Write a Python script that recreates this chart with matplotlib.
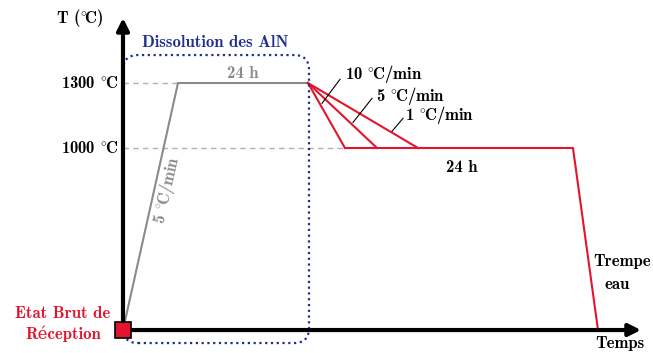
import matplotlib
matplotlib.use("Agg")
import matplotlib.pyplot as plt
from matplotlib.patches import FancyBboxPatch, Rectangle

# ---- data (schematic time units, temperature in °C) ----
T_base = 160
T_sol = 1300
T_ann = 1000
t_heat_end = 5.5
t_sol_end = 18.5
cool_rates = ["10 °C/min", "5 °C/min", "1 °C/min"]
t_cool_end = [22.2, 25.4, 29.5]
t_ann_end = 45.0
t_quench_end = 47.5
heat_label = "5 °C/min"
hold_label = "24 h"

FONT = ['cmb10', 'DejaVu Serif']
plt.rcParams['axes.unicode_minus'] = False
plt.rcParams['mathtext.fontset'] = 'cm'


def tx(s):
    return s.replace("°", r"$^{\circ}\!$")


fig = plt.figure(figsize=(6.53, 3.53), dpi=100)
ax = fig.add_axes([0, 0, 1, 1])
ax.set_xlim(-12.3, 53.0)
ax.set_ylim(54, 1683)
ax.axis('off')

gray = '#8a8a8a'
red = '#e3142d'
navy = '#1f2f8f'

# dashed guides
ax.plot([0, t_heat_end], [T_sol, T_sol], color='#b0b0b0', lw=1, ls=(0, (4, 3)))
ax.plot([0, t_cool_end[0]], [T_ann, T_ann], color='#b0b0b0', lw=1, ls=(0, (4, 3)))

# dissolution box
box = FancyBboxPatch((0.0, 100), 18.6, 1329, boxstyle="round,pad=0,rounding_size=1.5",
                     mutation_aspect=46.15, fill=False, ec=navy, lw=1.6, ls=(0, (1.0, 1.6)), zorder=4)
ax.add_patch(box)

# heating
ax.plot([0, t_heat_end, t_sol_end], [T_base, T_sol, T_sol], color=gray, lw=1.5, zorder=3)
# cooling
for te in t_cool_end:
    ax.plot([t_sol_end, te], [T_sol, T_ann], color=red, lw=1.5, zorder=3)
ax.plot([t_cool_end[0], t_ann_end, t_quench_end], [T_ann, T_ann, T_base], color=red, lw=1.5, zorder=3)

# axes arrows
ax.annotate('', xy=(0, 1600), xytext=(0, T_base - 25),
            arrowprops=dict(arrowstyle='-|>', lw=3, color='black', mutation_scale=18, shrinkA=0, shrinkB=0), zorder=5)
ax.annotate('', xy=(51.8, T_base), xytext=(-0.2, T_base),
            arrowprops=dict(arrowstyle='-|>', lw=3, color='black', mutation_scale=18, shrinkA=0, shrinkB=0), zorder=5)

# red square
ax.add_patch(Rectangle((-0.8, T_base - 37), 1.6, 74, fc=red, ec='black', lw=1.2, zorder=6))

fs = 12
ax.text(-0.5, T_sol, tx("1300 °C"), ha='right', va='center', fontsize=fs, family=FONT)
ax.text(-0.5, T_ann, tx("1000 °C"), ha='right', va='center', fontsize=fs, family=FONT)
ax.text(-4.3, 1600, tx("T (°C)"), ha='center', va='center', fontsize=fs, family=FONT)
ax.text(9.2, 1489, "Dissolution des AlN", ha='center', va='center', fontsize=fs, family=FONT, color=navy)
ax.text(12.0, 1346, hold_label, ha='center', va='center', fontsize=fs, family=FONT, color=gray)
ax.text(4.4, 806, tx(heat_label), ha='center', va='center', fontsize=fs, family=FONT, color=gray, rotation=77.4)
ax.text(33.9, 910, hold_label, ha='center', va='center', fontsize=fs, family=FONT)

# rate labels with leaders
lab_pos = [(22.2, 1340), (25.3, 1240), (28.2, 1150)]
lead = [((21.7, 1317), (19.9, 1206)), ((24.9, 1229), (23.0, 1118)), ((28.0, 1137), (26.9, 1077))]
for lbl, (x, y), (p0, p1) in zip(cool_rates, lab_pos, lead):
    ax.text(x, y, tx(lbl), ha='left', va='center', fontsize=fs, family=FONT)
    ax.plot([p0[0], p1[0]], [p0[1], p1[1]], color='black', lw=0.8, zorder=3)

ax.text(52.8, 474, "Trempe", ha='right', va='center', fontsize=fs, family=FONT)
ax.text(49.4, 372, "eau", ha='center', va='center', fontsize=fs, family=FONT)
ax.text(49.7, 96, "Temps", ha='center', va='center', fontsize=fs, family=FONT)
ax.text(-1.3, 234, "Etat Brut de", ha='right', va='center', fontsize=fs, family=FONT, color=red)
ax.text(-6.0, 143, "Réception", ha='center', va='center', fontsize=fs, family=FONT, color=red)

fig.savefig('out.png', dpi=100)
